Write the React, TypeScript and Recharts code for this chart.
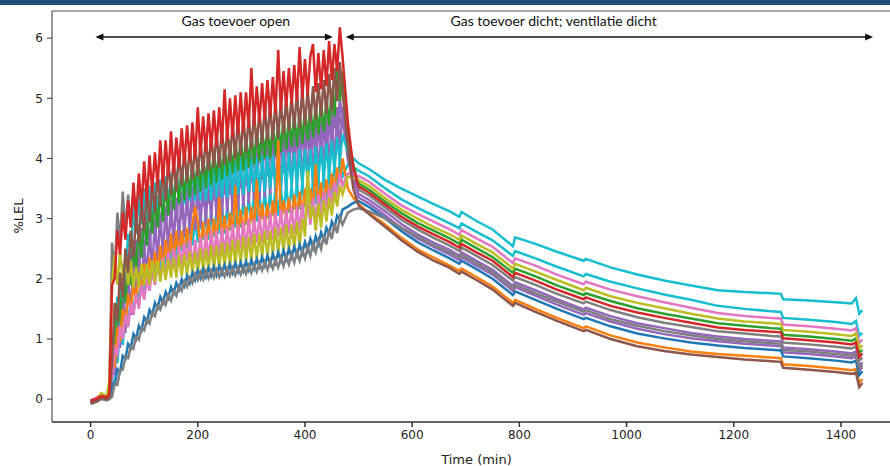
import { LineChart, Line, XAxis, YAxis, ReferenceLine, ReferenceDot } from 'recharts';

// minutes since start; dense sampling while the gas supply is open
const times = [
  0, 10, 20, 30,
  35, 40, 45, 50, 55, 60, 65, 70, 75, 80,
  85, 90, 95, 100, 105, 110, 115, 120, 125, 130,
  135, 140, 145, 150, 155, 160, 165, 170, 175, 180,
  185, 190, 195, 200, 205, 210, 215, 220, 225, 230,
  235, 240, 245, 250, 255, 260, 265, 270, 275, 280,
  285, 290, 295, 300, 305, 310, 315, 320, 325, 330,
  335, 340, 345, 350, 355, 360, 365, 370, 375, 380,
  385, 390, 395, 400, 405, 410, 415, 420, 425, 430,
  435, 440, 445, 450, 455, 460, 465, 470,
  480, 490, 500, 520, 550, 580, 610, 640, 670, 688,
  692, 720, 750, 788, 792, 830, 870, 920, 924, 970,
  1020, 1070, 1120, 1170, 1220, 1270, 1288, 1292, 1340, 1390,
  1420, 1428, 1434, 1440,
];

// %LEL per sensor
const grayHi = [
  -0.03, 0.0, 0.06, 0.02,
  0.1, 2.6, 2.1, 3.1, 2.6, 3.45, 2.8, 3.4, 2.9, 3.45,
  2.9, 3.45, 2.95, 3.5, 3.0, 3.5, 3.05, 3.55, 3.1, 3.6,
  3.15, 3.65, 3.2, 3.7, 3.25, 3.75, 3.3, 3.8, 3.35, 3.8,
  3.4, 3.85, 3.45, 3.9, 3.5, 3.95, 3.55, 4.0, 3.6, 4.0,
  3.65, 4.05, 3.7, 4.1, 3.75, 4.1, 3.8, 4.15, 3.8, 4.2,
  3.85, 4.25, 3.9, 4.25, 3.9, 4.3, 3.95, 4.3, 4.0, 4.35,
  4.0, 4.4, 4.05, 4.4, 4.1, 4.45, 4.1, 4.5, 4.15, 4.5,
  4.2, 4.55, 4.2, 4.6, 4.25, 4.6, 4.3, 4.65, 4.3, 4.7,
  4.35, 4.75, 4.4, 4.8, 4.5, 4.85, 4.6, 4.7,
  4.0, 3.7, 3.48, 3.38, 3.18, 2.98, 2.82, 2.68, 2.55, 2.46,
  2.52, 2.38, 2.23, 1.97, 2.03, 1.9, 1.75, 1.59, 1.62, 1.48,
  1.36, 1.27, 1.2, 1.13, 1.09, 1.05, 1.04, 0.94, 0.91, 0.87,
  0.84, 0.88, 0.64, 0.69,
];

const purple2 = [
  -0.05, -0.01, 0.03, 0.01,
  0.03, 0.2, 1.15, 0.95, 1.7, 1.35, 2.1, 1.75, 2.45, 2.0,
  2.65, 2.15, 2.85, 2.35, 3.0, 2.5, 3.15, 2.6, 3.25, 2.7,
  3.35, 2.8, 3.45, 2.85, 3.5, 2.95, 3.55, 3.0, 3.6, 3.05,
  3.65, 3.1, 3.75, 3.15, 3.8, 3.2, 3.85, 3.25, 3.9, 3.3,
  3.9, 3.35, 3.95, 3.4, 4.0, 3.4, 4.05, 3.45, 4.1, 3.5,
  4.1, 3.55, 4.15, 3.6, 4.2, 3.6, 4.25, 3.65, 4.3, 3.7,
  4.3, 3.7, 4.3, 3.75, 4.35, 3.75, 4.4, 3.8, 4.4, 3.85,
  4.45, 3.85, 4.5, 3.9, 4.5, 3.9, 4.55, 3.95, 4.6, 4.0,
  4.6, 4.05, 4.7, 4.15, 4.85, 4.35, 5.0, 4.6,
  4.2, 3.7, 3.35, 3.25, 3.05, 2.84, 2.67, 2.53, 2.4, 2.31,
  2.36, 2.22, 2.07, 1.8, 1.86, 1.72, 1.57, 1.4, 1.43, 1.29,
  1.17, 1.08, 1.01, 0.96, 0.92, 0.89, 0.88, 0.78, 0.75, 0.71,
  0.68, 0.71, 0.47, 0.53,
];

const cyan2 = [
  -0.02, 0.01, 0.05, 0.02,
  0.02, 0.1, 0.75, 0.6, 1.15, 0.9, 1.45, 1.2, 1.7, 1.4,
  1.9, 1.55, 2.05, 1.7, 2.2, 1.85, 2.35, 2.0, 2.45, 2.1,
  2.55, 2.2, 2.65, 2.25, 2.75, 2.35, 2.85, 2.45, 2.9, 2.5,
  2.95, 2.55, 3.0, 2.6, 3.05, 2.65, 3.1, 2.65, 3.1, 2.7,
  3.15, 2.75, 3.2, 2.75, 3.2, 2.8, 3.25, 2.85, 3.3, 2.85,
  3.3, 2.9, 3.35, 2.95, 3.4, 2.95, 3.4, 3.0, 3.45, 3.0,
  3.45, 3.05, 3.5, 3.05, 3.5, 3.1, 3.55, 3.1, 3.55, 3.15,
  3.6, 3.15, 3.6, 3.2, 3.65, 3.2, 3.65, 3.25, 3.7, 3.25,
  3.75, 3.3, 3.8, 3.4, 3.9, 3.5, 4.0, 3.7,
  3.9, 3.85, 3.8, 3.7, 3.5, 3.32, 3.18, 3.05, 2.92, 2.84,
  2.92, 2.78, 2.64, 2.38, 2.46, 2.34, 2.2, 2.04, 2.08, 1.95,
  1.84, 1.74, 1.65, 1.55, 1.5, 1.46, 1.45, 1.35, 1.32, 1.28,
  1.25, 1.3, 1.05, 1.1,
];

const purple = [
  -0.06, -0.03, 0.02, 0.0,
  0.04, 0.75, 0.4, 1.4, 0.85, 1.75, 1.1, 2.05, 1.4, 2.3,
  1.6, 2.5, 1.8, 2.65, 1.95, 2.85, 2.1, 3.0, 2.25, 3.1,
  2.35, 3.2, 2.45, 3.3, 2.55, 3.35, 2.6, 3.45, 2.7, 3.5,
  2.75, 3.55, 2.8, 3.6, 2.85, 3.7, 2.9, 3.75, 2.95, 3.8,
  3.0, 3.85, 3.05, 3.85, 3.1, 3.9, 3.1, 3.95, 3.15, 4.0,
  3.2, 4.05, 3.25, 4.05, 3.3, 4.1, 3.3, 4.15, 3.35, 4.2,
  3.4, 4.25, 3.45, 4.25, 3.5, 4.3, 3.5, 4.35, 3.55, 4.35,
  3.55, 4.4, 3.6, 4.4, 3.65, 4.45, 3.65, 4.5, 3.7, 4.55,
  3.75, 4.6, 3.8, 4.65, 3.9, 4.8, 4.1, 4.85,
  4.0, 3.6, 3.41, 3.31, 3.12, 2.91, 2.74, 2.6, 2.48, 2.38,
  2.44, 2.3, 2.15, 1.88, 1.94, 1.81, 1.66, 1.49, 1.52, 1.38,
  1.26, 1.18, 1.1, 1.04, 1.0, 0.97, 0.96, 0.86, 0.83, 0.79,
  0.76, 0.79, 0.55, 0.61,
];

const cyan = [
  -0.03, 0.0, 0.04, 0.02,
  0.05, 0.85, 0.85, 1.7, 1.5, 2.25, 2.0, 2.75, 2.45, 3.15,
  2.75, 3.35, 2.9, 3.45, 3.0, 3.55, 3.05, 3.6, 3.1, 3.65,
  3.15, 3.7, 3.2, 3.75, 3.2, 3.8, 3.25, 3.8, 3.25, 3.85,
  3.3, 3.85, 3.3, 3.85, 3.3, 3.9, 3.3, 3.9, 3.3, 3.9,
  3.35, 3.9, 3.35, 3.95, 3.35, 3.95, 3.4, 3.95, 3.4, 4.0,
  3.4, 4.0, 3.45, 4.0, 3.45, 4.0, 3.45, 4.05, 3.45, 4.05,
  3.5, 4.05, 3.5, 4.05, 3.5, 4.1, 3.5, 4.1, 3.55, 4.1,
  3.55, 4.15, 3.55, 4.15, 3.6, 4.15, 3.6, 4.2, 3.65, 4.2,
  3.65, 4.25, 3.7, 4.3, 3.8, 4.35, 3.95, 4.4,
  4.1, 4.0, 3.92, 3.82, 3.64, 3.5, 3.37, 3.24, 3.12, 3.03,
  3.11, 2.96, 2.82, 2.54, 2.69, 2.58, 2.45, 2.3, 2.33, 2.19,
  2.07, 1.97, 1.89, 1.81, 1.78, 1.76, 1.75, 1.66, 1.64, 1.61,
  1.59, 1.68, 1.42, 1.48,
];

const green = [
  -0.04, 0.0, 0.04, 0.02,
  0.05, 0.75, 0.7, 1.6, 1.25, 2.0, 1.6, 2.35, 1.9, 2.6,
  2.15, 2.85, 2.35, 3.05, 2.55, 3.25, 2.75, 3.35, 2.85, 3.5,
  2.95, 3.6, 3.05, 3.7, 3.15, 3.75, 3.25, 3.85, 3.3, 3.9,
  3.35, 3.95, 3.4, 4.0, 3.45, 4.05, 3.5, 4.1, 3.55, 4.15,
  3.6, 4.2, 3.65, 4.25, 3.7, 4.3, 3.75, 4.3, 3.8, 4.35,
  3.8, 4.4, 3.85, 4.45, 3.9, 4.5, 3.95, 4.5, 4.0, 4.55,
  4.0, 4.6, 4.05, 4.65, 4.1, 4.7, 4.15, 4.7, 4.2, 4.75,
  4.2, 4.8, 4.25, 4.85, 4.3, 4.9, 4.35, 4.9, 4.4, 4.95,
  4.45, 5.0, 4.55, 5.15, 4.7, 5.6, 4.95, 5.45,
  4.4, 3.9, 3.58, 3.48, 3.28, 3.09, 2.93, 2.8, 2.67, 2.58,
  2.65, 2.51, 2.36, 2.1, 2.17, 2.04, 1.89, 1.73, 1.76, 1.63,
  1.51, 1.42, 1.34, 1.26, 1.22, 1.18, 1.17, 1.07, 1.04, 1.0,
  0.97, 1.01, 0.77, 0.82,
];

const orange = [
  -0.02, 0.01, 0.05, 0.03,
  0.03, 0.6, 0.55, 1.2, 0.95, 1.5, 1.25, 1.75, 1.45, 1.95,
  1.6, 2.1, 1.75, 2.25, 1.9, 2.35, 2.0, 2.45, 2.1, 2.55,
  2.15, 2.65, 2.25, 2.75, 2.3, 2.8, 2.35, 2.8, 2.4, 2.85,
  2.45, 2.9, 3.2, 2.95, 2.5, 2.95, 2.55, 3.0, 2.55, 3.0,
  2.6, 3.35, 2.65, 3.05, 2.65, 3.1, 2.7, 3.55, 2.7, 3.15,
  2.75, 3.2, 2.75, 3.2, 2.8, 3.65, 2.85, 3.25, 2.85, 3.25,
  2.9, 3.3, 2.9, 4.3, 2.95, 3.3, 3.0, 3.35, 3.0, 3.4,
  3.05, 3.45, 3.05, 3.5, 3.1, 3.5, 3.15, 3.9, 3.15, 3.6,
  3.2, 3.65, 3.3, 3.75, 3.45, 3.85, 3.6, 4.0,
  3.5, 3.35, 3.24, 3.09, 2.9, 2.68, 2.49, 2.35, 2.22, 2.13,
  2.17, 2.03, 1.87, 1.6, 1.65, 1.5, 1.35, 1.18, 1.21, 1.06,
  0.94, 0.86, 0.79, 0.75, 0.72, 0.69, 0.68, 0.58, 0.55, 0.51,
  0.48, 0.5, 0.27, 0.33,
];

const pink = [
  -0.02, 0.02, 0.08, 0.03,
  0.05, 0.35, 0.85, 0.75, 1.2, 1.0, 1.4, 1.2, 1.6, 1.4,
  1.75, 1.5, 1.9, 1.65, 2.0, 1.8, 2.15, 1.9, 2.25, 2.0,
  2.35, 2.05, 2.45, 2.1, 2.5, 2.2, 2.55, 2.25, 2.6, 2.3,
  2.65, 2.2, 2.65, 2.25, 2.7, 2.25, 2.75, 2.3, 2.8, 2.35,
  2.8, 2.35, 2.85, 2.4, 2.85, 2.45, 2.9, 2.45, 2.9, 2.5,
  2.95, 2.5, 3.0, 2.55, 3.0, 2.6, 3.05, 2.6, 3.05, 2.65,
  3.1, 2.65, 3.1, 2.7, 3.15, 2.7, 3.15, 2.75, 3.2, 2.75,
  3.2, 2.8, 3.25, 2.85, 3.3, 2.9, 3.35, 2.95, 3.4, 3.0,
  3.45, 3.15, 3.5, 3.25, 3.6, 3.35, 3.75, 3.55,
  3.75, 3.74, 3.71, 3.61, 3.41, 3.22, 3.08, 2.95, 2.82, 2.73,
  2.81, 2.67, 2.53, 2.26, 2.34, 2.22, 2.07, 1.91, 1.95, 1.82,
  1.71, 1.61, 1.52, 1.43, 1.38, 1.35, 1.34, 1.24, 1.21, 1.17,
  1.14, 1.18, 0.93, 0.99,
];

const olive = [
  -0.04, -0.02, 0.1, 0.05,
  0.3, 1.9, 2.4, 1.9, 2.45, 2.0, 2.35, 1.9, 2.3, 1.85,
  2.2, 1.85, 2.25, 1.9, 2.25, 1.9, 2.3, 1.95, 2.3, 1.95,
  2.3, 1.98, 2.32, 2.02, 2.35, 2.02, 2.4, 2.05, 2.4, 2.06,
  2.45, 2.08, 2.45, 2.1, 2.5, 2.12, 2.5, 2.15, 2.55, 2.16,
  2.55, 2.18, 2.6, 2.2, 2.6, 2.22, 2.65, 2.24, 2.65, 2.26,
  2.7, 2.28, 2.7, 2.3, 2.75, 2.32, 2.75, 2.35, 2.8, 2.37,
  2.8, 2.4, 2.85, 2.42, 2.85, 2.45, 2.9, 2.48, 2.9, 2.5,
  2.95, 2.55, 3.0, 2.7, 3.8, 3.0, 3.2, 2.8, 3.25, 2.85,
  3.3, 2.95, 3.35, 3.05, 3.45, 3.2, 3.55, 3.4,
  3.7, 3.68, 3.64, 3.54, 3.34, 3.15, 3.0, 2.86, 2.74, 2.65,
  2.72, 2.58, 2.44, 2.17, 2.25, 2.12, 1.98, 1.81, 1.85, 1.71,
  1.6, 1.51, 1.42, 1.34, 1.29, 1.26, 1.25, 1.15, 1.12, 1.08,
  1.05, 1.09, 0.84, 0.9,
];

const blue = [
  -0.05, -0.02, 0.03, 0.0,
  0.02, 0.26, 0.24, 0.5, 0.45, 0.72, 0.67, 0.92, 0.85, 1.08,
  1.0, 1.22, 1.14, 1.36, 1.28, 1.48, 1.4, 1.6, 1.51, 1.7,
  1.6, 1.78, 1.68, 1.86, 1.76, 1.93, 1.82, 1.99, 1.88, 2.05,
  1.93, 2.1, 1.98, 2.14, 2.01, 2.16, 2.03, 2.18, 2.05, 2.2,
  2.06, 2.21, 2.08, 2.23, 2.09, 2.24, 2.1, 2.26, 2.12, 2.27,
  2.13, 2.29, 2.15, 2.31, 2.17, 2.33, 2.2, 2.36, 2.22, 2.38,
  2.24, 2.41, 2.27, 2.44, 2.3, 2.47, 2.33, 2.5, 2.36, 2.53,
  2.39, 2.57, 2.43, 2.61, 2.47, 2.66, 2.52, 2.71, 2.58, 2.77,
  2.65, 2.85, 2.75, 2.95, 2.85, 3.05, 2.98, 3.15,
  3.2, 3.26, 3.29, 3.19, 3.0, 2.79, 2.61, 2.47, 2.34, 2.25,
  2.3, 2.16, 2.0, 1.73, 1.79, 1.65, 1.5, 1.33, 1.35, 1.21,
  1.09, 1.01, 0.94, 0.89, 0.85, 0.82, 0.81, 0.71, 0.68, 0.64,
  0.61, 0.64, 0.4, 0.46,
];

const gray = [
  -0.08, -0.05, 0.0, -0.02,
  0.0, 0.04, 0.26, 0.24, 0.48, 0.49, 0.7, 0.68, 0.88, 0.84,
  1.04, 0.99, 1.18, 1.14, 1.32, 1.26, 1.44, 1.38, 1.56, 1.49,
  1.65, 1.57, 1.73, 1.64, 1.8, 1.72, 1.88, 1.8, 1.96, 1.87,
  2.02, 1.93, 2.08, 1.98, 2.11, 1.99, 2.13, 2.01, 2.14, 2.02,
  2.15, 2.03, 2.16, 2.04, 2.17, 2.05, 2.18, 2.06, 2.19, 2.07,
  2.2, 2.08, 2.22, 2.1, 2.24, 2.12, 2.26, 2.14, 2.28, 2.15,
  2.3, 2.17, 2.32, 2.19, 2.35, 2.21, 2.38, 2.24, 2.41, 2.27,
  2.44, 2.3, 2.48, 2.34, 2.53, 2.38, 2.58, 2.44, 2.64, 2.5,
  2.72, 2.57, 2.82, 2.66, 2.92, 2.76, 3.02, 2.9,
  3.1, 3.15, 3.17, 3.12, 3.0, 2.85, 2.7, 2.56, 2.44, 2.35,
  2.4, 2.26, 2.11, 1.84, 1.9, 1.76, 1.62, 1.45, 1.48, 1.33,
  1.22, 1.13, 1.06, 1.0, 0.96, 0.93, 0.92, 0.82, 0.79, 0.75,
  0.72, 0.75, 0.51, 0.57,
];

const brown = [
  -0.07, -0.04, 0.02, 0.0,
  0.05, 0.6, 1.6, 1.3, 2.1, 1.7, 2.5, 2.1, 2.8, 2.35,
  3.1, 2.6, 3.3, 2.8, 3.5, 2.95, 3.6, 3.1, 3.75, 3.2,
  3.85, 3.3, 3.95, 3.4, 4.0, 3.45, 4.1, 3.55, 4.15, 3.6,
  4.2, 3.65, 4.25, 3.7, 4.3, 3.75, 4.35, 3.8, 4.4, 3.85,
  4.45, 3.85, 4.5, 3.9, 4.5, 3.95, 4.6, 4.0, 4.65, 4.05,
  4.7, 4.1, 4.7, 4.15, 4.75, 4.2, 4.8, 4.25, 4.85, 4.3,
  4.9, 4.3, 4.95, 4.35, 4.95, 4.4, 5.0, 4.45, 5.05, 4.5,
  5.1, 4.5, 5.15, 4.55, 5.15, 4.6, 5.2, 4.65, 5.25, 4.7,
  5.3, 4.75, 5.4, 4.8, 5.5, 4.95, 5.6, 5.1,
  4.2, 3.5, 3.22, 3.07, 2.86, 2.64, 2.45, 2.3, 2.18, 2.08,
  2.12, 1.98, 1.82, 1.55, 1.6, 1.45, 1.3, 1.13, 1.15, 1.0,
  0.88, 0.8, 0.74, 0.7, 0.66, 0.63, 0.62, 0.52, 0.49, 0.45,
  0.42, 0.44, 0.2, 0.27,
];

const red = [
  -0.03, 0.0, 0.05, 0.03,
  0.08, 1.9, 2.0, 2.8, 2.4, 3.1, 2.65, 3.3, 2.85, 3.6,
  3.0, 3.75, 3.2, 3.95, 3.3, 4.05, 3.45, 4.1, 3.55, 4.3,
  3.6, 4.3, 3.7, 4.45, 3.75, 4.35, 3.85, 4.5, 3.9, 4.55,
  3.95, 4.6, 4.0, 4.85, 4.05, 4.7, 4.1, 4.75, 4.15, 4.8,
  4.2, 4.85, 4.25, 5.15, 4.3, 5.0, 4.35, 5.05, 4.4, 5.1,
  4.45, 5.1, 4.5, 5.5, 4.55, 5.2, 4.6, 5.25, 4.65, 5.3,
  4.7, 5.35, 4.75, 5.8, 4.8, 5.45, 4.85, 5.5, 4.9, 5.55,
  4.95, 5.85, 5.0, 5.65, 5.05, 5.7, 5.9, 5.1, 5.75, 5.15,
  5.8, 5.2, 5.95, 5.3, 5.9, 5.45, 6.18, 5.7,
  4.6, 3.85, 3.53, 3.43, 3.23, 3.03, 2.87, 2.74, 2.61, 2.52,
  2.58, 2.44, 2.3, 2.03, 2.1, 1.97, 1.82, 1.66, 1.69, 1.55,
  1.44, 1.35, 1.27, 1.19, 1.15, 1.12, 1.11, 1.01, 0.98, 0.94,
  0.91, 0.94, 0.7, 0.76,
];

const xTicks = [0, 200, 400, 600, 800, 1000, 1200, 1400];
const yTicks = [0, 1, 2, 3, 4, 5, 6];

// phase annotations (arrow span in minutes, label position)
const phases = [
  { label: 'Gas toevoer open', from: 9, to: 452, textAt: 271 },
  { label: 'Gas toevoer dicht; ventilatie dicht', from: 476, to: 1460, textAt: 864 },
];

// drawing order: later series end up on top
const series = [
  { key: 'grayHi', color: '#7f7f7f', values: grayHi },
  { key: 'purple2', color: '#9467bd', values: purple2 },
  { key: 'cyan2', color: '#17becf', values: cyan2 },
  { key: 'purple', color: '#9467bd', values: purple },
  { key: 'cyan', color: '#17becf', values: cyan },
  { key: 'green', color: '#2ca02c', values: green },
  { key: 'orange', color: '#ff7f0e', values: orange },
  { key: 'pink', color: '#e377c2', values: pink },
  { key: 'olive', color: '#bcbd22', values: olive },
  { key: 'blue', color: '#1f77b4', values: blue },
  { key: 'gray', color: '#7f7f7f', values: gray },
  { key: 'brown', color: '#8c564b', values: brown },
  { key: 'red', color: '#d62728', values: red },
];

const data = times.map((t, i) => {
  const row: Record<string, number> = { t };
  series.forEach((s) => {
    row[s.key] = s.values[i];
  });
  return row;
});

const Y_MIN = -0.38;
const Y_MAX = 6.45;
const ARROW_Y = 6.02;
const TEXT_Y = 6.3;

const tickStyle = { fill: '#222', fontSize: 12, fontFamily: 'DejaVu Sans, sans-serif' };

function ArrowShape(props: any) {
  const { x1, y1, x2, y2 } = props;
  const h = 8;
  const w = 3.5;
  return (
    <g>
      <line x1={x1 + 2} y1={y1} x2={x2 - 2} y2={y2} stroke="#111" strokeWidth={1.5} />
      <polygon points={`${x1},${y1} ${x1 + h},${y1 - w} ${x1 + h},${y1 + w}`} fill="#111" />
      <polygon points={`${x2},${y2} ${x2 - h},${y2 - w} ${x2 - h},${y2 + w}`} fill="#111" />
    </g>
  );
}

function YTitle() {
  return (
    <text
      x={18}
      y={216}
      transform="rotate(-90 18 216)"
      textAnchor="middle"
      dominantBaseline="central"
      fontSize={13}
      fontFamily="DejaVu Sans, sans-serif"
      fill="#222"
    >
      %LEL
    </text>
  );
}

export default function App() {
  return (
    <div
      style={{
        position: 'absolute',
        left: 0,
        top: 0,
        width: 890,
        height: 466,
        overflow: 'hidden',
        background: '#fff',
      }}
    >
      <div style={{ position: 'absolute', left: 0, top: 0, width: 890, height: 5, background: '#1f4e79' }} />
      <LineChart
        width={920}
        height={466}
        data={data}
        margin={{ top: 11, right: 19, left: 0, bottom: 0 }}
      >
        <XAxis
          dataKey="t"
          type="number"
          domain={[-72, 1512]}
          ticks={xTicks}
          allowDataOverflow
          height={44}
          tick={tickStyle}
          tickSize={5}
          tickMargin={3}
          stroke="#333"
          strokeWidth={1.5}
          label={{
            value: 'Time (min)',
            position: 'insideBottom',
            offset: 2,
            fill: '#222',
            fontSize: 13,
            fontFamily: 'DejaVu Sans, sans-serif',
          }}
        />
        <YAxis
          type="number"
          domain={[Y_MIN, Y_MAX]}
          ticks={yTicks}
          allowDataOverflow
          width={52}
          tick={tickStyle}
          tickSize={5}
          tickMargin={4}
          stroke="#333"
          label={<YTitle />}
        />
        <ReferenceLine y={Y_MAX} stroke="#555" strokeWidth={1} />
        {series.map((s) => (
          <Line
            key={s.key}
            dataKey={s.key}
            type="linear"
            stroke={s.color}
            strokeWidth={2.5}
            dot={false}
            activeDot={false}
            isAnimationActive={false}
          />
        ))}
        {phases.map((p) => (
          <ReferenceLine
            key={p.label}
            segment={[
              { x: p.from, y: ARROW_Y },
              { x: p.to, y: ARROW_Y },
            ]}
            ifOverflow="visible"
            shape={ArrowShape}
          />
        ))}
        {phases.map((p) => (
          <ReferenceDot
            key={p.label + '-text'}
            x={p.textAt}
            y={TEXT_Y}
            r={0}
            ifOverflow="visible"
            shape={(props: any) => (
              <text
                x={props.cx}
                y={props.cy}
                textAnchor="middle"
                dominantBaseline="central"
                fontSize={14}
                fontFamily="Lato, sans-serif"
                fill="#111"
              >
                {p.label}
              </text>
            )}
          />
        ))}
      </LineChart>
    </div>
  );
}
